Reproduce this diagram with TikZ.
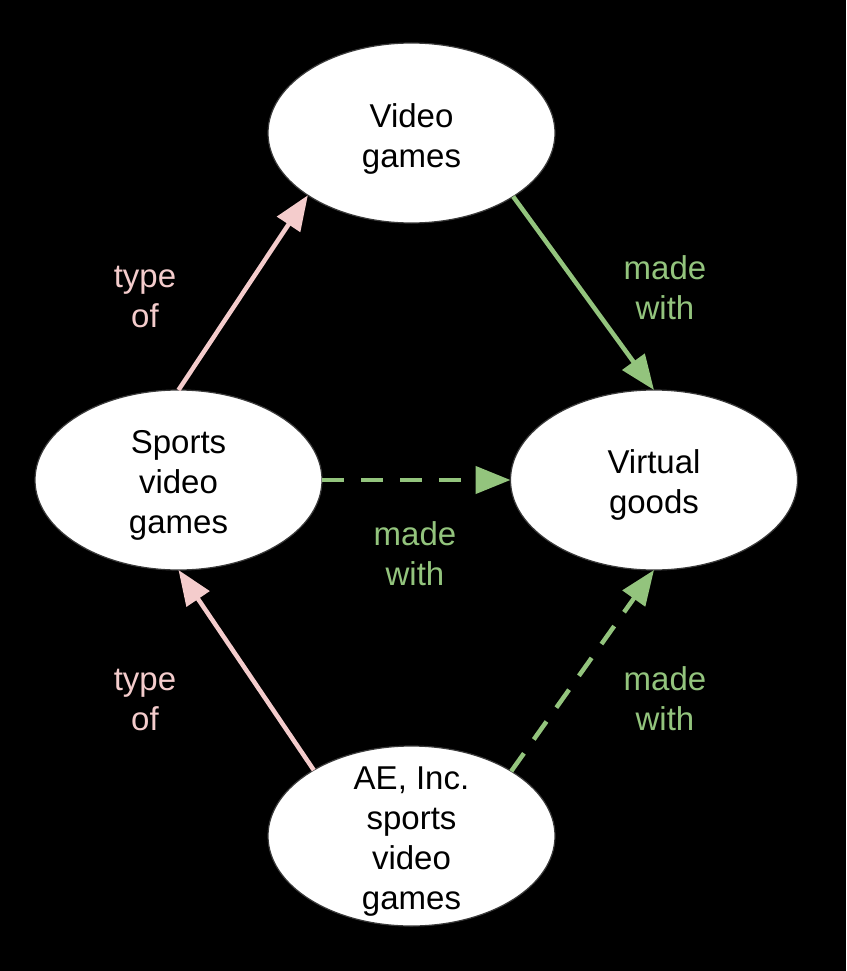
\documentclass[tikz,border=0pt]{standalone}
\usepackage{fontspec}
\setmainfont{Liberation Sans}
\usetikzlibrary{arrows.meta,shapes.geometric}
\definecolor{pinkc}{HTML}{F4CCCC}
\definecolor{greenc}{HTML}{93C47D}
\definecolor{rimc}{HTML}{3A3A3A}
\begin{document}
\begin{tikzpicture}[x=1pt,y=-1pt,
  ell/.style={ellipse, draw=rimc, line width=1.2pt, fill=white, minimum width=287pt, minimum height=180pt, inner sep=0pt, outer sep=0pt},
  txt/.style={align=center, font=\fontsize{33}{40}\selectfont, inner sep=0pt},
  lbl/.style={align=center, font=\fontsize{33}{40}\selectfont, inner sep=0pt},
  ar/.style={line width=4.5pt, -{Triangle[length=35pt,width=27pt]}},
  dsh/.style={dash pattern=on 22pt off 17pt}]
\fill[black] (0,0) rectangle (846,971);
\useasboundingbox (0,0) rectangle (846,971);
\node[ell] (vg) at (411.5,133) {};
\node[txt] (vgt) at (411.5,139) {Video\\games};
\node[ell] (svg) at (178.5,480) {};
\node[txt] (svgt) at (178.5,485) {Sports\\video\\games};
\node[ell] (vgo) at (654,480) {};
\node[txt] (vgot) at (654,485) {Virtual\\goods};
\node[ell] (ae) at (411.5,836) {};
\node[txt] (aet) at (411.5,842) {AE, Inc.\\sports\\video\\games};
\draw[ar, pinkc] (svg.north) -- (vg.211.8);
\draw[ar, greenc] (vg.-32.2) -- (vgo.north);
\draw[ar, greenc, dsh] (svg.east) -- (vgo.west);
\draw[ar, pinkc] (ae.146.8) -- (svg.south);
\draw[ar, greenc, dsh] (ae.33.2) -- (vgo.south);
\node[lbl, text=pinkc] (l1) at (145,297) {type\\of};
\node[lbl, text=pinkc] (l2) at (145,700) {type\\of};
\node[lbl, text=greenc] (l3) at (665,288) {made\\with};
\node[lbl, text=greenc] (l4) at (415,554) {made\\with};
\node[lbl, text=greenc] (l5) at (665,699) {made\\with};
\end{tikzpicture}
\end{document}
